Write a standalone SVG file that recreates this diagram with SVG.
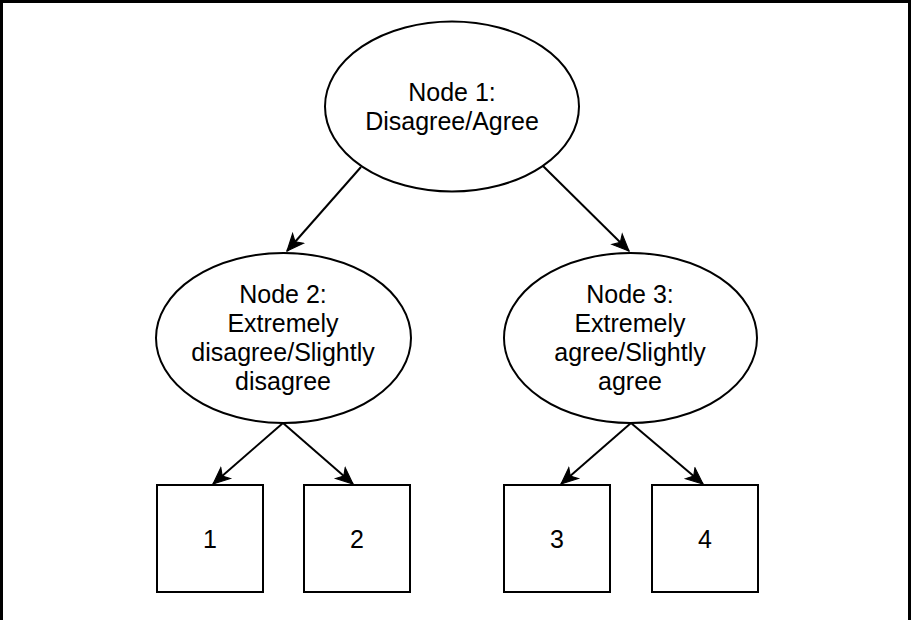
<svg xmlns="http://www.w3.org/2000/svg" width="911" height="620" viewBox="0 0 911 620">
  <style>
    .shape { fill: #ffffff; stroke: #000000; stroke-width: 2; }
    .edge { fill: none; stroke: #000000; stroke-width: 2; marker-end: url(#arrow); }
    .label { font-family: "Liberation Sans", Arial, sans-serif; font-size: 25px; fill: #000000; text-anchor: middle; }
    .frame { fill: none; stroke: #000000; stroke-width: 3; }
  </style>
  <defs>
    <marker id="arrow" markerUnits="userSpaceOnUse" markerWidth="20" markerHeight="20" viewBox="-16 -8 18 16" refX="0" refY="0" orient="auto">
      <path d="M0,0 L-15,-6.5 L-11,0 L-15,6.5 Z" fill="#000000" stroke="#000000" stroke-width="1" stroke-linejoin="miter"/>
    </marker>
  </defs>

  <rect width="911" height="620" fill="#ffffff"/>
  <!-- outer frame: top, left and right sides -->
  <path class="frame" d="M1.5,620 L1.5,1.5 L909.5,1.5 L909.5,620"/>

  <g id="connectors">
    <line class="edge" x1="361" y1="167" x2="287" y2="251"/>
    <line class="edge" x1="543" y1="166" x2="629" y2="251"/>
    <line class="edge" x1="283" y1="423" x2="213" y2="484"/>
    <line class="edge" x1="283" y1="423" x2="353" y2="484"/>
    <line class="edge" x1="631" y1="423" x2="561" y2="484"/>
    <line class="edge" x1="631" y1="423" x2="703" y2="484"/>
  </g>

  <g id="node1">
    <ellipse class="shape" cx="452" cy="106.5" rx="127" ry="85"/>
    <text class="label" x="452" y="101">Node 1:</text>
    <text class="label" x="452" y="130">Disagree/Agree</text>
  </g>

  <g id="node2">
    <ellipse class="shape" cx="283.5" cy="338" rx="127.5" ry="85"/>
    <text class="label" x="283" y="303">Node 2:</text>
    <text class="label" x="283" y="332">Extremely</text>
    <text class="label" x="283" y="361">disagree/Slightly</text>
    <text class="label" x="283" y="390">disagree</text>
  </g>

  <g id="node3">
    <ellipse class="shape" cx="630.5" cy="338" rx="126.5" ry="85"/>
    <text class="label" x="630" y="303">Node 3:</text>
    <text class="label" x="630" y="332">Extremely</text>
    <text class="label" x="630" y="361">agree/Slightly</text>
    <text class="label" x="630" y="390">agree</text>
  </g>

  <g id="leaf1">
    <rect class="shape" x="157" y="485" width="106" height="107"/>
    <text class="label" x="210" y="548">1</text>
  </g>
  <g id="leaf2">
    <rect class="shape" x="304" y="485" width="106" height="107"/>
    <text class="label" x="357" y="548">2</text>
  </g>
  <g id="leaf3">
    <rect class="shape" x="504" y="485" width="106" height="107"/>
    <text class="label" x="557" y="548">3</text>
  </g>
  <g id="leaf4">
    <rect class="shape" x="652" y="485" width="106" height="107"/>
    <text class="label" x="705" y="548">4</text>
  </g>
</svg>
